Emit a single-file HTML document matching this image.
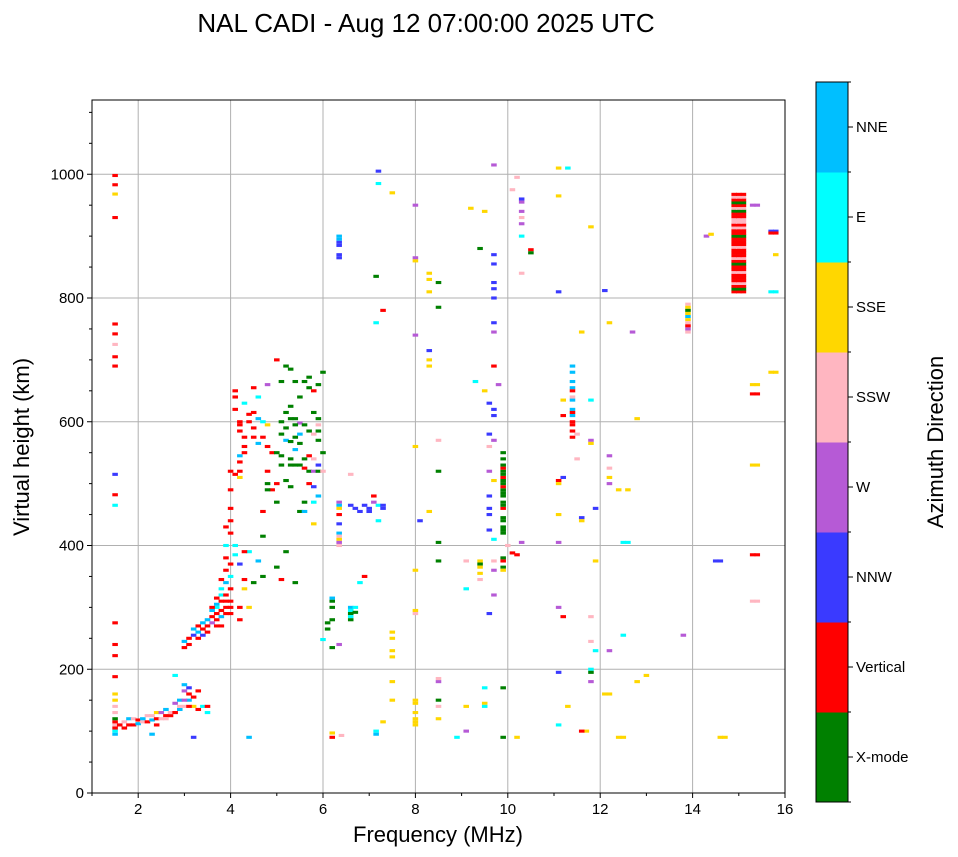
<!DOCTYPE html>
<html><head><meta charset="utf-8"><style>
html,body{margin:0;padding:0;background:#fff;}
svg{display:block;font-family:"Liberation Sans","DejaVu Sans",sans-serif;}
</style></head><body>
<svg id="chart" width="958" height="857" viewBox="0 0 958 857" xmlns="http://www.w3.org/2000/svg">
<text x="426" y="32" font-size="26" text-anchor="middle">NAL CADI - Aug 12 07:00:00 2025 UTC</text>
<g id="grid"></g>
<g id="marks"></g>
<rect x="92" y="100" width="693" height="693" fill="none" stroke="#000" stroke-width="1"/>
<g id="axes"></g>
<text x="438" y="842" font-size="22" text-anchor="middle">Frequency (MHz)</text>
<text transform="translate(29,447) rotate(-90)" font-size="22" text-anchor="middle">Virtual height (km)</text>
<g id="cbar"></g>
<text transform="translate(943,442) rotate(-90)" font-size="22" text-anchor="middle">Azimuth Direction</text>
</svg>
<script>
const categories=["X-mode","Vertical","NNW","W","SSW","SSE","E","NNE"];
const catColors=["#008000","#ff0000","#3a3aff","#b65ad6","#ffb6c1","#ffd700","#00ffff","#00bfff"];
const xTicks=[2,4,6,8,10,12,14,16];
const yTicks=[0,200,400,600,800,1000];
const freqs=[];const heights=[];const cats=[];
function add(list){for(const p of list){freqs.push(p[0]);heights.push(p[1]);cats.push(p[2]);}}
add([[1.5,95,7],[1.5,100,6],[1.5,105,1],[1.5,110,4],[1.5,115,1],[1.5,120,0],[1.5,130,4],[1.5,140,4],[1.5,150,5],[1.5,160,5],
[1.5,188,1],[1.5,222,1],[1.5,240,1],[1.5,275,1],[1.5,465,6],[1.5,482,1],[1.5,515,2],[1.5,690,1],[1.5,705,1],[1.5,725,4],[1.5,742,1],[1.5,758,1],[1.5,930,1],[1.5,968,5],[1.5,983,1],[1.5,998,1],
[1.6,110,1],[1.7,105,1],[1.7,115,4],[1.8,110,1],[1.8,120,7],[1.9,110,1],[1.9,120,4],[2.0,112,7],[2.0,118,1],[2.1,115,4],[2.1,120,7],[2.2,115,1],[2.2,125,4],[2.3,118,7],[2.3,95,7],[2.3,125,4],[2.4,120,1],[2.4,130,5],[2.5,120,4],[2.5,130,3],[2.6,125,1],[2.6,135,7],[2.7,125,1],[2.7,130,4],[2.8,130,1],[2.8,145,3],[2.9,135,7],[2.9,150,7],[3.0,140,4],[3.0,165,3],[3.0,175,7],[3.1,150,7],[3.1,160,1],[3.1,170,2],[3.2,140,5],[3.2,155,1],[3.3,135,1],[3.3,165,1],[3.4,140,6],[3.5,140,1],[3.5,130,6],[2.8,190,6],[3.2,90,2],[4.4,90,7],[2.4,110,1],[2.6,120,4],[2.9,140,4],[3.0,150,3],[3.1,140,1],
[3.0,235,1],[3.0,245,7],[3.1,250,1],[3.1,240,1],[3.2,255,2],[3.2,265,7],[3.3,250,1],[3.3,260,7],[3.3,270,1],[3.4,265,1],[3.4,275,7],[3.4,255,2],[3.5,260,1],[3.5,280,7],[3.5,270,1],[3.6,285,1],[3.6,295,7],[3.6,275,3],[3.7,280,1],[3.7,290,1],[3.7,305,7],[3.7,300,6],[3.8,295,1],[3.8,310,1],[3.8,320,6],[3.8,285,7],[3.9,300,1],[3.9,320,1],[3.9,340,7],[3.9,290,1],[4.0,310,1],[4.0,330,1],[4.0,350,6],[4.0,290,1],[3.8,330,6],[3.8,345,1],[3.9,360,1],[3.9,380,1],[4.0,370,1],[4.0,420,1],[4.0,440,1],[4.0,460,1],[3.9,430,1],[4.0,490,1],[3.9,400,6],[4.1,385,6],[4.2,370,2],[4.2,300,1],[4.2,280,1],[4.3,330,5],[4.3,345,1],[4.4,300,5],[4.4,390,6],[4.5,340,0],[4.6,375,7],[4.7,350,0],[4.7,415,0],[4.1,400,6],[4.3,390,1],[3.6,300,1],[3.7,315,1],[3.9,310,1],[4.0,300,1],[3.8,270,1],[3.7,270,1],
[4.1,650,1],[4.1,640,1],[4.1,620,1],[4.2,600,1],[4.2,595,1],[4.2,585,1],[4.3,575,1],[4.3,560,1],[4.2,545,7],[4.3,550,1],[4.2,535,1],[4.2,520,1],[4.1,515,1],[4.0,520,1],[4.4,600,1],[4.5,655,1],[4.6,640,6],[4.5,615,1],[4.5,590,1],[4.7,600,6],[4.8,595,5],[4.5,575,1],[4.7,575,1],[4.6,565,7],[4.8,560,1],[4.9,550,1],[4.2,510,5],[4.8,520,1],[4.8,500,0],[4.9,490,1],[5.0,700,1],[5.2,690,0],[5.3,685,0],[5.4,665,0],[5.6,665,0],[5.7,655,0],[5.8,650,1],[5.5,640,0],[5.3,625,0],[5.2,615,0],[5.1,600,0],[5.2,590,0],[5.3,605,0],[5.4,605,0],[5.5,598,3],[5.6,595,0],[5.8,615,0],[5.9,605,0],[5.9,595,4],[5.9,585,0],[5.1,580,0],[5.2,570,7],[5.3,568,0],[5.4,575,0],[5.5,580,7],[5.7,585,0],[5.8,580,4],[5.9,570,0],[5.0,550,0],[5.1,545,0],[5.3,540,0],[5.4,555,7],[5.5,565,0],[5.6,540,0],[5.7,545,1],[5.8,540,4],[5.9,530,2],[5.1,530,0],[5.3,530,0],[5.5,530,0],[5.6,525,1],[5.7,520,0],[5.8,520,3],[5.9,520,0],[4.8,490,0],[5.2,505,0],[5.0,500,1],[5.3,495,0],[5.7,500,1],[5.8,495,2],[5.9,480,7],[5.8,470,6],[5.6,470,0],[5.5,455,0],[5.0,470,0],[4.7,455,1],[5.2,390,0],[5.4,340,0],[5.1,345,1],[5.6,455,7],[6.0,680,0],[5.9,660,0],[5.7,672,0],[5.1,665,0],[4.8,660,3],[4.6,605,7],[6.0,550,0],[6.0,520,4],[5.8,435,5],[5.0,365,0],[4.3,630,6],[4.4,612,1],[5.4,530,0],[5.4,595,0],
[6.35,900,7],[6.35,895,7],[6.35,890,2],[6.35,885,2],[6.35,870,2],[6.35,865,2],[6.35,470,3],[6.35,465,7],[6.35,460,5],[6.35,450,1],[6.35,435,2],[6.35,420,7],[6.35,415,4],[6.35,410,5],[6.35,405,3],[6.35,400,4],[6.35,240,3],[6.2,310,0],[6.2,300,0],[6.2,315,7],[6.2,280,0],[6.1,265,0],[6.0,248,6],[6.2,235,0],[6.2,97,5],[6.2,90,1],[6.4,93,4],[6.1,275,0],
[6.6,300,7],[6.6,295,6],[6.6,290,0],[6.6,285,6],[6.6,280,0],[6.7,300,6],[6.7,292,0],[6.8,340,6],[6.9,350,1],[6.6,515,4],[6.6,465,2],[6.7,460,2],[6.8,455,2],[6.9,465,2],[7.0,455,2],[7.1,480,1],[7.1,470,3],[7.2,465,6],[7.3,460,2],[7.3,465,2],[7.0,460,2],[7.2,440,6],[7.15,760,6],[7.15,835,0],[7.2,1005,2],[7.2,985,6],[7.5,970,5],[7.3,780,1],[7.3,115,5],[7.15,100,6],[7.15,95,7],[7.5,260,5],[7.5,250,5],[7.5,230,5],[7.5,220,5],[7.5,180,5],[7.5,150,5],
[8.0,950,3],[8.0,865,3],[8.0,860,5],[8.0,740,3],[8.0,560,5],[8.0,360,5],[8.0,295,5],[8.0,290,4],[8.0,150,5],[8.0,145,5],[8.0,130,5],[8.0,120,5],[8.0,110,5],[8.0,115,5],[8.3,840,5],[8.3,830,5],[8.3,810,5],[8.5,825,0],[8.5,785,0],[8.3,715,2],[8.3,700,5],[8.3,690,5],[8.5,570,4],[8.5,520,0],[8.3,455,5],[8.1,440,2],[8.5,405,0],[8.5,375,0],[8.5,180,3],[8.5,185,4],[8.5,150,0],[8.5,140,4],[8.5,120,5],[8.9,90,6],[9.1,100,3],[9.1,140,5],[9.1,330,6],[9.1,375,4],[9.2,945,5],[9.3,665,6],[9.4,880,0],[9.5,940,5],[9.4,375,5],[9.4,370,0],[9.4,365,5],[9.4,355,5],[9.4,345,4],[9.5,170,6],[9.5,145,5],[9.5,140,6],[9.5,650,5],[9.6,630,2],[9.7,1015,3],[9.7,870,2],[9.7,855,2],[9.7,825,2],[9.7,815,2],[9.7,800,2],[9.7,760,2],[9.7,745,3],[9.7,690,1],[9.7,620,2],[9.8,660,3],[9.7,610,2],[9.6,580,2],[9.7,570,3],[9.6,560,4],[9.6,520,3],[9.7,505,5],[9.6,480,2],[9.6,460,2],[9.6,450,2],[9.6,425,2],[9.7,410,6],[9.7,375,4],[9.7,360,3],[9.7,320,3],[9.6,290,2],[9.9,170,0],[9.9,90,0],[10.2,90,5],
[9.9,420,0],[9.9,425,0],[9.9,430,0],[9.9,440,0],[9.9,445,0],[9.9,460,1],[9.9,465,0],[9.9,470,0],[9.9,480,0],[9.9,485,0],[9.9,490,0],[9.9,495,1],[9.9,500,0],[9.9,505,0],[9.9,510,1],[9.9,515,0],[9.9,520,0],[9.9,525,1],[9.9,530,0],[9.9,540,0],[9.9,550,0],[9.9,380,0],[9.9,375,1],[9.9,365,0],[9.9,360,5],[10.2,385,1],[10.1,388,1],
[10.2,995,4],[10.1,975,4],[10.3,960,2],[10.3,955,3],[10.3,940,3],[10.3,930,4],[10.3,920,3],[10.3,900,6],[10.3,840,4],[10.5,878,1],[10.5,873,0],[10.3,405,3],[10.0,400,4],
[11.1,1010,5],[11.3,1010,6],[11.1,965,5],[11.1,810,2],[11.1,505,1],[11.1,500,5],[11.1,450,5],[11.1,405,3],[11.1,300,3],[11.1,195,2],[11.1,110,6],[11.3,140,5],[11.2,285,1],[11.2,510,2],[11.2,610,1],[11.2,635,5],[11.4,690,7],[11.4,680,7],[11.4,665,7],[11.4,655,7],[11.4,635,7],[11.4,620,7],[11.4,610,7],[11.4,600,1],[11.4,595,1],[11.4,585,1],[11.4,575,1],[11.4,650,1],[11.4,615,1],[11.4,640,4],[11.5,580,4],[11.5,540,4],[11.6,445,2],[11.6,440,5],[11.6,745,5],[11.8,915,5],[11.7,100,5],[11.6,100,1],[11.8,570,3],[11.8,565,5],[11.8,635,6],[11.8,285,4],[11.8,245,4],[11.8,200,6],[11.8,195,0],[11.8,180,3],[11.9,375,5],[11.9,460,2],[11.9,230,6],[12.1,812,2],[12.2,760,5],[12.2,545,3],[12.2,525,4],[12.2,510,5],[12.2,500,3],[12.2,230,3],[12.2,160,5],[12.4,490,5],[12.5,405,6],[12.5,255,6],[12.5,90,5],[12.4,90,5],[12.7,745,3],[12.8,605,5],[12.8,180,5],[13.0,190,5],[13.8,255,3],[12.1,160,5],[12.6,490,5],[12.6,405,6],
[13.9,790,4],[13.9,785,5],[13.9,780,0],[13.9,775,5],[13.9,770,7],[13.9,765,5],[13.9,760,4],[13.9,755,1],[13.9,750,3],[13.9,745,4],
[14.3,900,3],[14.4,903,5],[14.5,375,2],[14.6,375,2],[14.6,90,5],[14.7,90,5],
[15.4,950,3],[15.3,950,3],[15.4,660,5],[15.3,660,5],[15.4,645,1],[15.3,645,1],[15.4,530,5],[15.3,530,5],[15.4,385,1],[15.3,385,1],[15.4,310,4],[15.3,310,4],[15.8,908,2],[15.8,905,1],[15.8,870,5],[15.8,810,6],[15.8,680,5],[15.7,908,2],[15.7,905,1],[15.7,810,6],[15.7,680,5]]);
const col15=[1,0,1,4,1,1,1,4,1,1,0,1,4,1,1,1,4,1,1,1,0,1,1,4,1,4,4,1,1,0,4,1,0,1,4,1];
col15.forEach((c,i)=>{for(const f of [14.9,15.0,15.1]){freqs.push(f);heights.push(810+i*4.5);cats.push(c);}});

const NS="http://www.w3.org/2000/svg";
const X0=92,X1=785,Y0=793,Y1=100,FMIN=1,FMAX=16,HMIN=0,HMAX=1120;
const xs=f=>X0+(f-FMIN)/(FMAX-FMIN)*(X1-X0);
const ys=h=>Y0-(h-HMIN)/(HMAX-HMIN)*(Y0-Y1);
function el(tag,attrs,parent){const e=document.createElementNS(NS,tag);for(const k in attrs)e.setAttribute(k,attrs[k]);parent.appendChild(e);return e;}
const grid=document.getElementById('grid'),axes=document.getElementById('axes'),marks=document.getElementById('marks'),cbar=document.getElementById('cbar');
xTicks.forEach(t=>{
  const g=el('line',{x1:xs(t),x2:xs(t),y1:Y1,y2:Y0,stroke:'#b0b0b0','stroke-width':1},grid);
  
  const tk=el('line',{x1:xs(t),x2:xs(t),y1:Y0,y2:Y0+5,stroke:'#000'},axes);
  
  const tx=el('text',{x:xs(t),y:Y0+21,'font-size':15,'text-anchor':'middle'},axes);tx.textContent=t;
  
});
for(let t=1;t<=16;t++){if(t%2){const m=el('line',{x1:xs(t),x2:xs(t),y1:Y0,y2:Y0+3,stroke:'#000'},axes);}}
yTicks.forEach(t=>{
  const g=el('line',{x1:X0,x2:X1,y1:ys(t),y2:ys(t),stroke:'#b0b0b0','stroke-width':1},grid);
  
  const tk=el('line',{x1:X0-5,x2:X0,y1:ys(t),y2:ys(t),stroke:'#000'},axes);
  
  const tx=el('text',{x:X0-8,y:ys(t)+5,'font-size':15,'text-anchor':'end'},axes);tx.textContent=t;
  
});
for(let t=50;t<=1100;t+=50){if(t%200){const m=el('line',{x1:X0-3,x2:X0,y1:ys(t),y2:ys(t),stroke:'#000'},axes);}}
const DF=0.12,DH=5;
freqs.forEach((f,i)=>{
  const r=el('rect',{x:xs(f-DF/2),y:ys(heights[i]+DH/2),width:xs(f+DF/2)-xs(f-DF/2),height:ys(heights[i]-DH/2)-ys(heights[i]+DH/2),fill:catColors[cats[i]]},marks);
  
  
});
const CX=816,CW=32,CT=82,CB=802,n=categories.length,seg=(CB-CT)/n;
categories.forEach((c,i)=>{
  const y=CB-(i+1)*seg;
  const r=el('rect',{x:CX,y:y,width:CW,height:seg+0.5,fill:catColors[i]},cbar);
  
  const tk=el('line',{x1:CX+CW,x2:CX+CW+5,y1:y+seg/2,y2:y+seg/2,stroke:'#000'},cbar);
  
  const tx=el('text',{x:CX+CW+8,y:y+seg/2+5,'font-size':15},cbar);tx.textContent=c;
  
});
for(let i=0;i<=n;i++){const y=CB-i*seg;const t=el('line',{x1:CX+CW,x2:CX+CW+3,y1:y,y2:y,stroke:'#000'},cbar);}
const fr=el('rect',{x:CX,y:CT,width:CW,height:CB-CT,fill:'none',stroke:'#000'},cbar);

</script>
</body></html>
